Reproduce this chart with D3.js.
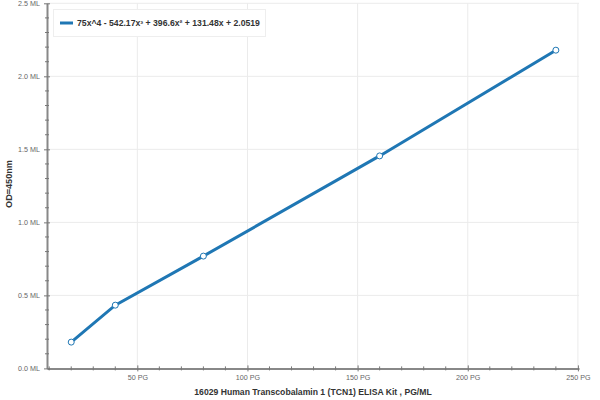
<!DOCTYPE html>
<html><head><meta charset="utf-8">
<script src="https://cdn.jsdelivr.net/npm/d3@7"></script>
<style>body{margin:0;background:#fff;}svg{display:block;font-family:"Liberation Sans",Arial,sans-serif;}</style>
</head><body><svg id="c" width="600" height="400"></svg>
<script>
const concentrations = [20, 40, 80, 160, 240];
const odValues = [0.18, 0.433, 0.769, 1.455, 2.179];
const seriesName = "75x^4 - 542.17x\u00b3 + 396.6x\u00b2 + 131.48x + 2.0519";
const xTicks = [50, 100, 150, 200, 250];
const yTicks = [0, 0.5, 1.0, 1.5, 2.0, 2.5];
const xTitle = "16029 Human Transcobalamin 1 (TCN1) ELISA Kit , PG/ML";
const yTitle = "OD=450nm";

const svg = d3.select("#c");
const L = 47, R = 579, T = 3.3, B = 368.4;
const x = d3.scaleLinear().domain([9, 250.5]).range([L, R]);
const y = d3.scaleLinear().domain([0, 2.5]).range([B, T]);
const color = "#1f77b4";

function fit(sel, target) {
  const w = sel.node().getComputedTextLength();
  const fs = parseFloat(sel.attr("font-size"));
  sel.attr("font-size", (fs * target / w).toFixed(2));
}

// grid
svg.append("g").selectAll("line").data(xTicks).join("line")
  .attr("x1", d => x(d)).attr("x2", d => x(d)).attr("y1", T).attr("y2", B)
  .attr("stroke", "#ebebeb").attr("stroke-width", 1);
svg.append("g").selectAll("line").data(yTicks.filter(d => d > 0)).join("line")
  .attr("x1", L).attr("x2", R).attr("y1", d => y(d)).attr("y2", d => y(d))
  .attr("stroke", "#ebebeb").attr("stroke-width", 1);

// minor ticks
const xMinor = d3.range(10, 251, 10).filter(d => d % 50 !== 0);
const yMinor = d3.range(1, 25).map(d => d / 10).filter(d => Math.round(d * 10) % 5 !== 0);

const xAxis = svg.append("g").attr("transform", `translate(0,${B})`);
xAxis.call(d3.axisBottom(x).tickValues(xTicks).tickFormat(d => d + " PG").tickSize(5).tickSizeOuter(0));
xAxis.selectAll(".tick line").attr("y1", -3).attr("y2", 3);
xAxis.append("g").selectAll("line").data(xMinor).join("line")
  .attr("x1", d => x(d)).attr("x2", d => x(d)).attr("y1", -2).attr("y2", 2).attr("stroke", "#777");

const yAxis = svg.append("g").attr("transform", `translate(${L},0)`);
yAxis.call(d3.axisLeft(y).tickValues(yTicks).tickFormat(d => d.toFixed(1) + " ML").tickSize(5).tickSizeOuter(0));
yAxis.selectAll(".tick line").attr("x1", -3).attr("x2", 3);
yAxis.append("g").selectAll("line").data(yMinor).join("line")
  .attr("y1", d => y(d)).attr("y2", d => y(d)).attr("x1", -2).attr("x2", 2).attr("stroke", "#777");

[xAxis, yAxis].forEach(a => {
  a.select(".domain").attr("stroke", "#888").attr("stroke-width", 2);
  a.selectAll(".tick line").attr("stroke", "#777");
  a.selectAll(".tick text").attr("fill", "#666").attr("font-size", 8);
});
xAxis.selectAll(".tick text").attr("y", 7).attr("dy", "0.71em");
yAxis.selectAll(".tick text").attr("x", -7);
// fit tick label size to reference ("50 PG" about 20px wide)
{
  const t = xAxis.select(".tick text");
  const w = t.node().getComputedTextLength();
  const fs = (8 * 20.3 / w).toFixed(2);
  xAxis.selectAll(".tick text").attr("font-size", fs);
  yAxis.selectAll(".tick text").attr("font-size", fs);
}

// titles
const xt = svg.append("text").attr("x", (L + R) / 2).attr("y", 395).attr("text-anchor", "middle")
  .attr("font-size", 10).attr("font-weight", "bold").attr("fill", "#333").text(xTitle);
fit(xt, 238);
const yt = svg.append("text").attr("transform", `translate(11.5,184) rotate(-90)`).attr("text-anchor", "middle")
  .attr("font-size", 10).attr("font-weight", "bold").attr("fill", "#333").text(yTitle);
fit(yt, 48);

// line
const data = concentrations.map((c, i) => ({c, v: odValues[i]}));
svg.append("path").datum(data)
  .attr("d", d3.line().x(d => x(d.c)).y(d => y(d.v)))
  .attr("fill", "none").attr("stroke", color).attr("stroke-width", 3);
svg.append("g").selectAll("circle").data(data).join("circle")
  .attr("cx", d => x(d.c)).attr("cy", d => y(d.v)).attr("r", 3)
  .attr("fill", "#fff").attr("stroke", color).attr("stroke-width", 1);

// legend
const lg = svg.append("g");
lg.append("rect").attr("x", 53.5).attr("y", 9.5).attr("width", 212).attr("height", 27)
  .attr("fill", "#fff").attr("stroke", "#eeeeee");
lg.append("line").attr("x1", 60).attr("x2", 73).attr("y1", 23).attr("y2", 23)
  .attr("stroke", color).attr("stroke-width", 3);
const lt = lg.append("text").attr("x", 77).attr("y", 26.3).attr("font-size", 10).attr("font-weight", "bold")
  .attr("fill", "#333").text(seriesName);
fit(lt, 183);
</script></body></html>
